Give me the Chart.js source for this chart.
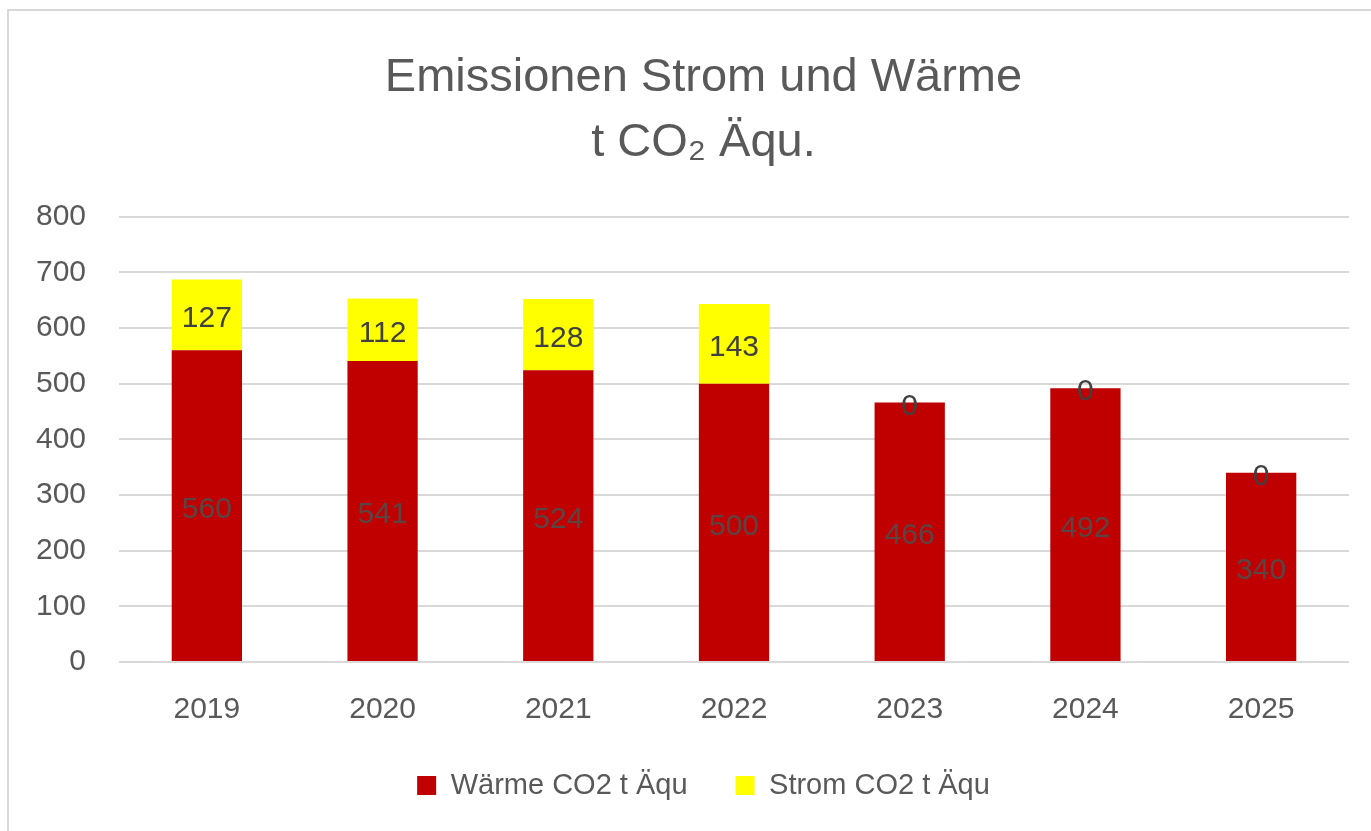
<!DOCTYPE html>
<html lang="de">
<head>
<meta charset="utf-8">
<title>Emissionen Strom und Wärme</title>
<script src="https://cdn.jsdelivr.net/npm/chart.js@4.4.1/dist/chart.umd.min.js"></script>
<style>
    html, body { margin: 0; padding: 0; background: #ffffff; overflow: hidden; }
    #frame {
        position: absolute; left: 7px; top: 9px; width: 1420px; height: 900px;
        border: 2px solid #d9d9d9; box-sizing: border-box;
    }
    #wrap { position: absolute; left: 0; top: 0; width: 1371px; height: 831px; }
</style>
</head>
<body>
<div id="frame"></div>
<div id="wrap"><canvas id="emissions-chart"></canvas></div>
<script>
    const years = ['2019', '2020', '2021', '2022', '2023', '2024', '2025'];
    const waermeValues = [560, 541, 524, 500, 466, 492, 340];
    const stromValues = [127, 112, 128, 143, 0, 0, 0];
    const yTicks = [0, 100, 200, 300, 400, 500, 600, 700, 800];
    const titleLines = ['Emissionen Strom und Wärme', 't CO₂ Äqu.'];

    const FONT = "'Liberation Sans', Arial, sans-serif";
    const GREY = '#595959';

    // simple value labels, placed at each bar's centre
    const valueLabels = {
        id: 'valueLabels',
        afterDatasetsDraw(chart) {
            const ctx = chart.ctx;
            ctx.save();
            ctx.font = `30px ${FONT}`;
            ctx.textAlign = 'center';
            ctx.textBaseline = 'middle';
            chart.data.datasets.forEach((ds, i) => {
                const meta = chart.getDatasetMeta(i);
                if (meta.hidden) return;
                ctx.fillStyle = ds.labelColor;
                meta.data.forEach((bar, idx) => {
                    const { x, y } = bar.getCenterPoint();
                    ctx.fillText(String(ds.data[idx]), x, y + 4);
                });
            });
            ctx.restore();
        }
    };

    // title and legend sit a bit right of centre in the original
    const nudgeBlocks = {
        id: 'nudgeBlocks',
        afterLayout(chart) {
            [chart.titleBlock, chart.legend].forEach((box) => {
                if (!box) return;
                box.left += 29;
                box.right += 29;
            });
        }
    };

    document.addEventListener('DOMContentLoaded', () => {
        const ctx = document.getElementById('emissions-chart').getContext('2d');
        new Chart(ctx, {
            type: 'bar',
            data: {
                labels: years,
                datasets: [
                    {
                        label: 'Wärme CO2 t Äqu',
                        data: waermeValues,
                        backgroundColor: '#c00000',
                        labelColor: '#5a4545',
                        categoryPercentage: 0.8,
                        barPercentage: 0.5
                    },
                    {
                        label: 'Strom CO2 t Äqu',
                        data: stromValues,
                        backgroundColor: '#ffff00',
                        labelColor: '#404040',
                        categoryPercentage: 0.8,
                        barPercentage: 0.5
                    }
                ]
            },
            options: {
                responsive: true,
                maintainAspectRatio: false,
                animation: false,
                layout: { padding: { top: 10, right: 22, bottom: 21, left: 0 } },
                scales: {
                    x: {
                        stacked: true,
                        grid: { display: false },
                        border: { display: false },
                        ticks: { color: GREY, font: { family: FONT, size: 30 }, padding: 22 },
                        afterFit: (s) => { s.height = 61; }
                    },
                    y: {
                        stacked: true,
                        min: 0,
                        max: 800,
                        afterBuildTicks: (s) => { s.ticks = yTicks.map((v) => ({ value: v })); },
                        grid: { color: '#d9d9d9', lineWidth: 2, drawTicks: false },
                        border: { display: false },
                        ticks: { color: GREY, font: { family: FONT, size: 30 }, padding: 33 },
                        afterFit: (s) => { s.width = 119; }
                    }
                },
                plugins: {
                    title: {
                        display: true,
                        text: titleLines,
                        color: GREY,
                        font: { family: FONT, size: 47, weight: 'normal', lineHeight: 1.38 },
                        padding: { top: 36, bottom: 41 }
                    },
                    legend: {
                        position: 'bottom',
                        labels: {
                            color: GREY,
                            font: { family: FONT, size: 29 },
                            boxWidth: 19,
                            boxHeight: 19,
                            padding: 48
                        }
                    },
                    tooltip: { enabled: false }
                }
            },
            plugins: [valueLabels, nudgeBlocks]
        });
    });
</script>
</body>
</html>
